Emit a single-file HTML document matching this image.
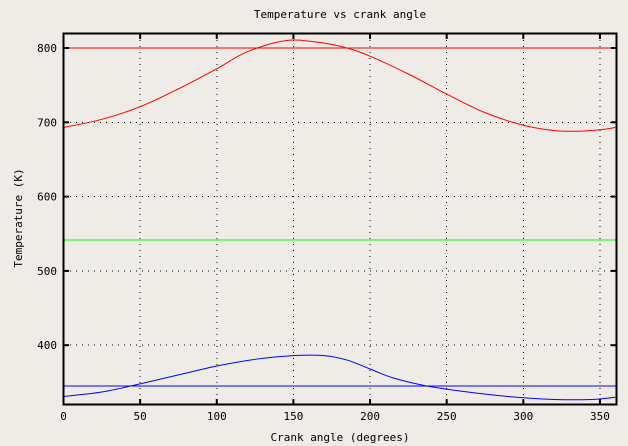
<!DOCTYPE html>
<html><head><meta charset="utf-8"><style>
html,body{margin:0;padding:0;background:#efebe7;}
svg{display:block;font-family:"DejaVu Sans Mono","Liberation Mono",monospace;font-size:11px;}
</style></head><body>
<svg id="s" width="628" height="446" xmlns="http://www.w3.org/2000/svg">
<rect width="628" height="446" fill="#efebe7"/>
<g id="grid" stroke="#000" stroke-width="1" stroke-dasharray="1,5" shape-rendering="crispEdges"></g>
<g id="curves" fill="none" stroke-width="1"></g>
<rect x="63.5" y="33.5" width="553" height="371" fill="none" stroke="#000" stroke-width="2"/>
<g id="ticks" stroke="#000" stroke-width="2"></g>
<g id="labels" fill="#000"></g>
<text x="340" y="18" text-anchor="middle">Temperature vs crank angle</text>
<text x="340" y="441" text-anchor="middle">Crank angle (degrees)</text>
<text x="22" y="218" text-anchor="middle" transform="rotate(-90 22 218)">Temperature (K)</text>
</svg>
<script>
const X=d=>63.5+d*1.5327, Y=t=>48+(800-t)*0.743;
const NS="http://www.w3.org/2000/svg";
function el(p,tag,a,txt){const e=document.createElementNS(NS,tag);for(const k in a)e.setAttribute(k,a[k]);if(txt)e.textContent=txt;document.getElementById(p).appendChild(e);}
for(let d=50;d<=350;d+=50){el("grid","line",{x1:X(d),y1:34,x2:X(d),y2:404});
 el("ticks","line",{x1:X(d),y1:34,x2:X(d),y2:39});el("ticks","line",{x1:X(d),y1:404,x2:X(d),y2:399});}
for(let d=0;d<=350;d+=50) el("labels","text",{x:X(d),y:420,"text-anchor":"middle"},String(d));
for(let t=400;t<=800;t+=100){el("grid","line",{x1:64,y1:Y(t),x2:616,y2:Y(t)});
 el("ticks","line",{x1:64,y1:Y(t),x2:69,y2:Y(t)});el("ticks","line",{x1:616,y1:Y(t),x2:611,y2:Y(t)});
 el("labels","text",{x:57,y:Y(t)+4,"text-anchor":"end"},String(t));}
function smooth(pts){let s="";const n=pts.length;
 for(let i=0;i<n;i++){const [x,y]=[X(pts[i][0]),Y(pts[i][1])];
  if(i==0){s+="M"+x+","+y;continue;}
  const p0=pts[Math.max(i-2,0)],p1=pts[i-1],p2=pts[i],p3=pts[Math.min(i+1,n-1)];
  const c1x=X(p1[0])+(X(p2[0])-X(p0[0]))/6,c1y=Y(p1[1])+(Y(p2[1])-Y(p0[1]))/6;
  const c2x=X(p2[0])-(X(p3[0])-X(p1[0]))/6,c2y=Y(p2[1])-(Y(p3[1])-Y(p1[1]))/6;
  s+=` C${c1x},${c1y} ${c2x},${c2y} ${x},${y}`;}
 return s;}
const red=[[0,693],[25,704],[50,721],[75,745],[100,772],[120,795],[145,810],[165,808],[185,800],[200,789],[225,765],[250,738],[275,713],[300,696],[320,689],[335,688],[350,690],[360,693]];
const blue=[[0,331],[25,337],[50,348],[75,360],[100,372],[125,381],[150,386],[170,386],[185,380],[200,368],[215,356],[235,346],[260,338],[290,331],[320,327],[345,327],[360,330]];
el("curves","path",{d:smooth(red),stroke:"#ff0000"});
el("curves","path",{d:smooth(blue),stroke:"#0000ff"});
el("curves","line",{x1:64,y1:Y(800),x2:616,y2:Y(800),stroke:"#ff0000"});
el("curves","line",{x1:64,y1:240,x2:616,y2:240,stroke:"#00ff00"});
el("curves","line",{x1:64,y1:386,x2:616,y2:386,stroke:"#0000ff"});
</script>
</body></html>
